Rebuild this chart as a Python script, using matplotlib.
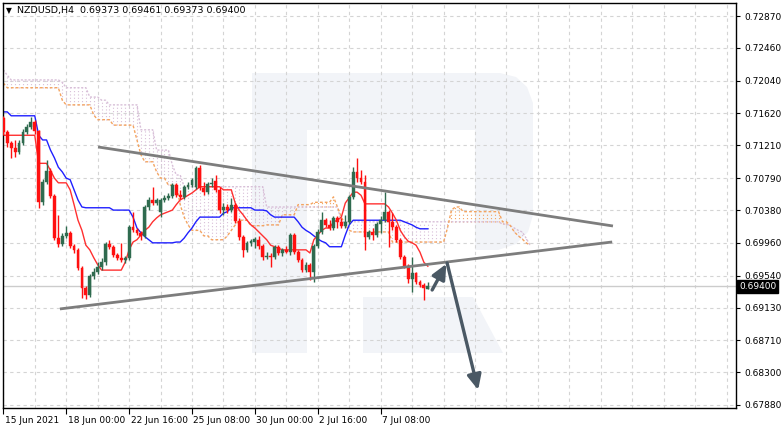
import matplotlib
matplotlib.use("Agg")
import matplotlib.pyplot as plt
import matplotlib.transforms as mtransforms
from matplotlib.patches import Polygon

# NZDUSD H4 candles, bar index 0 = 15 Jun 2021 08:00
opens = [0.7156, 0.7138, 0.7124, 0.7118, 0.7113, 0.7124, 0.7138, 0.7145, 0.7151, 0.7139,
         0.7048, 0.7074, 0.7088, 0.7056, 0.7002, 0.6994, 0.7005, 0.7009, 0.6992, 0.6987,
         0.6964, 0.6938, 0.6929, 0.6953, 0.6958, 0.6965, 0.6971, 0.6994, 0.6991, 0.6980,
         0.6977, 0.6974, 0.6977, 0.7016, 0.7012, 0.7009, 0.7005, 0.7042, 0.7051, 0.7047,
         0.7036, 0.7051, 0.7054, 0.7056, 0.7070, 0.7057, 0.7055, 0.7068, 0.7070, 0.7068,
         0.7092, 0.7066, 0.7061, 0.7071, 0.7075, 0.7064, 0.7038, 0.7042, 0.7038, 0.7045,
         0.7024, 0.7004, 0.6987, 0.6996, 0.6997, 0.7000, 0.6992, 0.6978, 0.6979, 0.6978,
         0.6991, 0.6983, 0.6987, 0.6984, 0.7006, 0.6984, 0.6974, 0.6961, 0.6968, 0.6958,
         0.6992, 0.7010, 0.7025, 0.7019, 0.7015, 0.7028, 0.7023, 0.7018, 0.7023, 0.7055,
         0.7087, 0.7079, 0.7074, 0.7004, 0.7010, 0.7006, 0.7020, 0.7025, 0.7036, 0.7023,
         0.7016, 0.7000, 0.6978, 0.6966, 0.6950, 0.6957, 0.6946, 0.6942, 0.69373]
closes = [0.7138, 0.7124, 0.7118, 0.7113, 0.7124, 0.7138, 0.7145, 0.7151, 0.7139, 0.7048,
          0.7074, 0.7088, 0.7056, 0.7002, 0.6994, 0.7005, 0.7009, 0.6992, 0.6987, 0.6964,
          0.6938, 0.6929, 0.6953, 0.6958, 0.6965, 0.6971, 0.6994, 0.6991, 0.6980, 0.6977,
          0.6974, 0.6977, 0.7016, 0.7012, 0.7009, 0.7005, 0.7042, 0.7051, 0.7047, 0.7051,
          0.7051, 0.7054, 0.7056, 0.7070, 0.7057, 0.7055, 0.7068, 0.7070, 0.7077, 0.7092,
          0.7066, 0.7061, 0.7071, 0.7073, 0.7064, 0.7038, 0.7042, 0.7038, 0.7045, 0.7024,
          0.7004, 0.6987, 0.6996, 0.6998, 0.7001, 0.6992, 0.6978, 0.6979, 0.6978, 0.6991,
          0.6983, 0.6987, 0.6984, 0.7006, 0.6984, 0.6974, 0.6961, 0.6968, 0.6958, 0.6992,
          0.7010, 0.7025, 0.7019, 0.7015, 0.7028, 0.7023, 0.7018, 0.7023, 0.7055, 0.7087,
          0.7079, 0.7074, 0.7004, 0.7010, 0.7006, 0.7020, 0.7025, 0.7036, 0.7023, 0.7016,
          0.7000, 0.6978, 0.6966, 0.6950, 0.6957, 0.6946, 0.6942, 0.6938, 0.69400]
highs = [0.7159, 0.7141, 0.7127, 0.7128, 0.7128, 0.7142, 0.7148, 0.7157, 0.7154, 0.7141,
         0.7078, 0.7102, 0.7092, 0.7059, 0.7032, 0.7009, 0.7018, 0.7011, 0.6994, 0.6989,
         0.6966, 0.6941, 0.6956, 0.6964, 0.6971, 0.6977, 0.6997, 0.7000, 0.6993, 0.6983,
         0.6996, 0.6979, 0.7019, 0.7036, 0.7015, 0.7011, 0.7045, 0.7055, 0.7068, 0.7054,
         0.7054, 0.7057, 0.7060, 0.7073, 0.7073, 0.7064, 0.7070, 0.7074, 0.7079, 0.7095,
         0.7096, 0.7074, 0.7074, 0.7079, 0.7083, 0.7068, 0.7047, 0.7046, 0.7054, 0.7047,
         0.7028, 0.7006, 0.6998, 0.7001, 0.7004, 0.7005, 0.6995, 0.6984, 0.6983, 0.6993,
         0.6993, 0.6989, 0.6992, 0.7009, 0.7009, 0.6987, 0.6977, 0.6971, 0.6970, 0.6994,
         0.7014, 0.7036, 0.7028, 0.7025, 0.7030, 0.7030, 0.7028, 0.7032, 0.7057, 0.7093,
         0.7105, 0.7089, 0.7083, 0.7012, 0.7015, 0.7023, 0.7030, 0.7061, 0.7038, 0.7034,
         0.7019, 0.7002, 0.6980, 0.6969, 0.6978, 0.6958, 0.6948, 0.6944, 0.69461]
lows = [0.7134, 0.7119, 0.7105, 0.7106, 0.7110, 0.7122, 0.7136, 0.7142, 0.7136, 0.7041,
        0.7045, 0.7071, 0.7054, 0.7000, 0.6991, 0.6992, 0.7002, 0.6989, 0.6983, 0.6961,
        0.6925, 0.6924, 0.6927, 0.6950, 0.6956, 0.6961, 0.6968, 0.6988, 0.6978, 0.6974,
        0.6971, 0.6970, 0.6974, 0.7010, 0.7006, 0.7000, 0.7002, 0.7038, 0.7045, 0.7045,
        0.7029, 0.7048, 0.7051, 0.7054, 0.7055, 0.7052, 0.7052, 0.7065, 0.7068, 0.7065,
        0.7064, 0.7057, 0.7059, 0.7068, 0.7061, 0.7034, 0.7032, 0.7034, 0.7036, 0.7021,
        0.7000, 0.6978, 0.6984, 0.6992, 0.6989, 0.6988, 0.6974, 0.6975, 0.6965, 0.6975,
        0.6980, 0.6979, 0.6983, 0.6980, 0.6982, 0.6971, 0.6958, 0.6958, 0.6948, 0.6946,
        0.6989, 0.7007, 0.7016, 0.7012, 0.7012, 0.7015, 0.7015, 0.7015, 0.7020, 0.7052,
        0.7074, 0.7071, 0.6987, 0.7001, 0.7000, 0.7004, 0.7009, 0.7023, 0.6991, 0.7012,
        0.6997, 0.6975, 0.6964, 0.6944, 0.6933, 0.6943, 0.6939, 0.6923, 0.69373]

# Ichimoku: Tenkan-sen, Kijun-sen (per candle) and the cloud (runs 26 bars ahead)
tenkan = [0.7134, 0.7134, 0.7134, 0.7134, 0.7134, 0.7134, 0.7134, 0.7134, 0.7134, 0.7098,
          0.7098, 0.7098, 0.7089, 0.7079, 0.7073, 0.7073, 0.7073, 0.7064, 0.7045, 0.7025,
          0.7012, 0.6993, 0.6987, 0.6977, 0.6968, 0.6961, 0.6961, 0.6961, 0.6961, 0.6961,
          0.6961, 0.6971, 0.6987, 0.6997, 0.7000, 0.7006, 0.7012, 0.7016, 0.7023, 0.7028,
          0.7032, 0.7034, 0.7036, 0.7038, 0.7045, 0.7051, 0.7054, 0.7057, 0.7060, 0.7064,
          0.7068, 0.7068, 0.7068, 0.7068, 0.7068, 0.7068, 0.7064, 0.7064, 0.7064, 0.7047,
          0.7038, 0.7032, 0.7025, 0.7019, 0.7015, 0.7010, 0.7005, 0.7000, 0.6993, 0.6991,
          0.6989, 0.6987, 0.6987, 0.6987, 0.6987, 0.6987, 0.6987, 0.6987, 0.6983, 0.7000,
          0.7006, 0.7012, 0.7015, 0.7015, 0.7023, 0.7025, 0.7029, 0.7047, 0.7054, 0.7061,
          0.7061, 0.7057, 0.7046, 0.7046, 0.7046, 0.7046, 0.7046, 0.7046, 0.7042, 0.7034,
          0.7025, 0.7012, 0.7004, 0.6998, 0.6996, 0.6993, 0.6984, 0.6971, 0.6966]
kijun = [0.7164, 0.7164, 0.7159, 0.7159, 0.7159, 0.7159, 0.7159, 0.7159, 0.7159, 0.7134,
         0.7128, 0.7128, 0.7115, 0.7105, 0.7093, 0.7087, 0.7079, 0.7077, 0.7064, 0.7051,
         0.7042, 0.7041, 0.7041, 0.7041, 0.7041, 0.7041, 0.7041, 0.7041, 0.7038, 0.7038,
         0.7038, 0.7038, 0.7038, 0.7029, 0.7015, 0.7009, 0.7004, 0.7000, 0.6996, 0.6996,
         0.6996, 0.6996, 0.6996, 0.6996, 0.6997, 0.6997, 0.7002, 0.7009, 0.7015, 0.7023,
         0.7029, 0.7029, 0.7029, 0.7029, 0.7029, 0.7029, 0.7034, 0.7036, 0.7041, 0.7041,
         0.7041, 0.7041, 0.7041, 0.7041, 0.7038, 0.7038, 0.7038, 0.7037, 0.7032, 0.7029,
         0.7029, 0.7029, 0.7029, 0.7029, 0.7029, 0.7023, 0.7016, 0.7012, 0.7009, 0.7005,
         0.7001, 0.6998, 0.6996, 0.6991, 0.6991, 0.6991, 0.6991, 0.7006, 0.7019, 0.7025,
         0.7025, 0.7025, 0.7025, 0.7025, 0.7025, 0.7025, 0.7025, 0.7025, 0.7025, 0.7025,
         0.7025, 0.7025, 0.7023, 0.7021, 0.7019, 0.7016, 0.7014, 0.7014, 0.7014]
span_a = [0.7201, 0.7195, 0.7195, 0.7195, 0.7195, 0.7195, 0.7195, 0.7195, 0.7195, 0.7195,
          0.7195, 0.7195, 0.7195, 0.7195, 0.7195, 0.7179, 0.7173, 0.7173, 0.7173, 0.7173,
          0.7173, 0.7173, 0.7173, 0.7160, 0.7154, 0.7154, 0.7154, 0.7154, 0.7147, 0.7147,
          0.7147, 0.7147, 0.7147, 0.7147, 0.7128, 0.7109, 0.7100, 0.7100, 0.7100, 0.7087,
          0.7079, 0.7079, 0.7070, 0.7070, 0.7070, 0.7045, 0.7029, 0.7019, 0.7012, 0.7012,
          0.7012, 0.7005, 0.7005, 0.7000, 0.7000, 0.7000, 0.7000, 0.7005, 0.7012, 0.7019,
          0.7025, 0.7025, 0.7025, 0.7018, 0.7018, 0.7018, 0.7018, 0.7019, 0.7019, 0.7019,
          0.7019, 0.7032, 0.7032, 0.7032, 0.7032, 0.7045, 0.7045, 0.7045, 0.7045, 0.7048,
          0.7048, 0.7048, 0.7048, 0.7048, 0.7055, 0.7042, 0.7029, 0.7019, 0.7012, 0.7010,
          0.7010, 0.7010, 0.7010, 0.7010, 0.7010, 0.7010, 0.7010, 0.7010, 0.7010, 0.6997,
          0.6997, 0.6997, 0.6997, 0.6997, 0.6997, 0.6997, 0.6997, 0.6997, 0.6997, 0.6997,
          0.6997, 0.6997, 0.6997, 0.7015, 0.7038, 0.7042, 0.7042, 0.7036, 0.7036, 0.7036,
          0.7036, 0.7036, 0.7036, 0.7036, 0.7036, 0.7036, 0.7036, 0.7023, 0.7023, 0.7018,
          0.7010, 0.7005, 0.7001, 0.6996, 0.6993]
span_b = [0.7218, 0.7211, 0.7205, 0.7205, 0.7205, 0.7205, 0.7205, 0.7205, 0.7205, 0.7205,
          0.7205, 0.7205, 0.7205, 0.7205, 0.7205, 0.7202, 0.7195, 0.7195, 0.7195, 0.7195,
          0.7195, 0.7195, 0.7183, 0.7183, 0.7183, 0.7179, 0.7179, 0.7173, 0.7173, 0.7173,
          0.7173, 0.7173, 0.7173, 0.7173, 0.7173, 0.7141, 0.7141, 0.7141, 0.7141, 0.7115,
          0.7115, 0.7115, 0.7115, 0.7096, 0.7083, 0.7083, 0.7068, 0.7068, 0.7068, 0.7068,
          0.7068, 0.7068, 0.7068, 0.7068, 0.7068, 0.7068, 0.7068, 0.7068, 0.7068, 0.7068,
          0.7068, 0.7068, 0.7068, 0.7068, 0.7068, 0.7068, 0.7068, 0.7042, 0.7042, 0.7042,
          0.7042, 0.7042, 0.7042, 0.7042, 0.7042, 0.7042, 0.7042, 0.7042, 0.7042, 0.7042,
          0.7042, 0.7042, 0.7042, 0.7042, 0.7042, 0.7042, 0.7023, 0.7023, 0.7023, 0.7023,
          0.7023, 0.7023, 0.7023, 0.7023, 0.7023, 0.7023, 0.7023, 0.7023, 0.7023, 0.7023,
          0.7023, 0.7023, 0.7023, 0.7023, 0.7023, 0.7023, 0.7023, 0.7023, 0.7023, 0.7023,
          0.7023, 0.7023, 0.7023, 0.7023, 0.7023, 0.7023, 0.7023, 0.7023, 0.7023, 0.7023,
          0.7023, 0.7023, 0.7023, 0.7023, 0.7023, 0.7023, 0.7023, 0.7020, 0.7020, 0.7018,
          0.7015, 0.7012, 0.7010, 0.7002, 0.6993]

# triangle and forecast arrows, in (bar, price)
upper_line = ([24.1, 155.1], [0.71190, 0.70176])
lower_line = ([14.4, 154.9], [0.69112, 0.69971])
arrow_up = ((109.1, 0.69355), (112.7, 0.69689))
arrow_down = ((112.9, 0.69702), (120.8, 0.68073))

price_ticks = [0.72870, 0.72460, 0.72040, 0.71620, 0.71210, 0.70790, 0.70380,
               0.69960, 0.69540, 0.69130, 0.68710, 0.68300, 0.67880]
date_ticks = [0, 16, 32, 48, 64, 80, 96]
date_labels = ['15 Jun 2021', '18 Jun 00:00', '22 Jun 16:00', '25 Jun 08:00',
               '30 Jun 00:00', '2 Jul 16:00', '7 Jul 08:00']
last_price = 0.69400
header = 'NZDUSD,H4  0.69373 0.69461 0.69373 0.69400'

BULL = '#2f6b4f'
BEAR = '#ff1010'

fig = plt.figure(figsize=(7.82, 4.28), dpi=100)
ax = fig.add_axes([3 / 782, 20 / 428, 733 / 782, 405 / 428])
ax.set_xlim(-0.08, 186.4)
ax.set_ylim(0.67841, 0.73037)
ax.set_axisbelow(True)

# faint "R" watermark
def wm(pts):
    return [((px - 3) / 733, (408 - py) / 405) for px, py in pts]

wm_color = '#f2f4f8'
for shape in (
    [(252, 73), (307, 73), (307, 353), (252, 353)],
    [(307, 73), (500, 73), (516, 77), (527, 87), (533, 103), (533, 215), (528, 232),
     (516, 244), (498, 250), (475, 250), (475, 130), (307, 130)],
    [(363, 297), (473, 297), (503, 353), (363, 353)],
):
    ax.add_patch(Polygon(wm(shape), closed=True, transform=ax.transAxes,
                         facecolor=wm_color, edgecolor='none', zorder=0.1))

ax.grid(True, color='#d4d4d4', linestyle=(0, (3, 3)), linewidth=0.8)
ax.set_xticks(list(range(0, 187, 8)), minor=True)
ax.grid(True, which='minor', axis='x', color='#d4d4d4', linestyle=(0, (3, 3)), linewidth=0.8)
ax.axhline(last_price, color='#cccccc', linewidth=1, zorder=0.6)

# cloud
n_cloud = len(span_a)
cx = list(range(n_cloud))
for i in cx:
    col = '#f4a460' if span_a[i] > span_b[i] else '#d8bfd8'
    ax.vlines(i, min(span_a[i], span_b[i]), max(span_a[i], span_b[i]), colors=col,
              linestyles=(0, (1, 2)), linewidth=0.8, zorder=1)
ax.plot(cx, span_b, color='#d8bfd8', linestyle=(0, (1.5, 1.2)), linewidth=1, zorder=1.1)
ax.plot(cx, span_a, color='#f4a460', linestyle=(0, (2, 1.5)), linewidth=1, zorder=1.1)

n = len(closes)
bx = list(range(n))
ax.plot(bx, kijun, color='#2020ff', linewidth=1, zorder=2)
ax.plot(bx, tenkan, color='#ff3030', linewidth=1, zorder=2)

# candles
for i in bx:
    col = BULL if closes[i] >= opens[i] else BEAR
    ax.vlines(i, lows[i], highs[i], colors=col, linewidth=1, zorder=3)
    lo = min(opens[i], closes[i])
    h = max(abs(closes[i] - opens[i]), 0.00003)
    ax.bar(i, h, bottom=lo, width=0.72, color=col, edgecolor=col, linewidth=0.3, zorder=3.1)

# triangle
ax.plot(upper_line[0], upper_line[1], color='#7d7d7d', linewidth=2, zorder=4,
        solid_capstyle='butt')
ax.plot(lower_line[0], lower_line[1], color='#7d7d7d', linewidth=2, zorder=4,
        solid_capstyle='butt')

# forecast arrows
for (x0, y0), (x1, y1) in (arrow_up, arrow_down):
    ax.annotate('', xy=(x1, y1), xytext=(x0, y0),
                arrowprops=dict(arrowstyle='-|>,head_length=0.9,head_width=0.42',
                                color='#4a5864', lw=2.4, shrinkA=0, shrinkB=0),
                zorder=5)

# axes styling
for s in ax.spines.values():
    s.set_color('black')
    s.set_linewidth(1)
ax.yaxis.tick_right()
ax.set_yticks(price_ticks)
ax.set_yticklabels(['%.5f' % p for p in price_ticks])
ax.tick_params(axis='y', which='major', length=3, width=0.8, pad=3, labelsize=6.5,
               colors='black')
ax.set_xticks(date_ticks)
ax.set_xticklabels(date_labels, ha='left')
ax.tick_params(axis='x', which='major', length=4, width=0.8, pad=1.5, labelsize=6.5)
ax.tick_params(axis='x', which='minor', length=0)
for lbl in ax.get_xticklabels():
    lbl.set_transform(lbl.get_transform() + mtransforms.ScaledTranslation(1.5 / 100, 0, fig.dpi_scale_trans))

trans = mtransforms.blended_transform_factory(ax.transAxes, ax.transData)
ax.text(1.004, last_price, '%.5f' % last_price, transform=trans, ha='left', va='center',
        fontsize=6.5, color='white', clip_on=False, zorder=6,
        bbox=dict(facecolor='black', edgecolor='black', pad=1.2))

fig.text(6 / 782, 1 - 11 / 428, '\u25BC', fontsize=5.5, va='center', ha='left')
fig.text(17 / 782, 1 - 11 / 428, header, fontsize=6.8, va='center', ha='left')

fig.savefig('out.png', dpi=100, facecolor='white')
